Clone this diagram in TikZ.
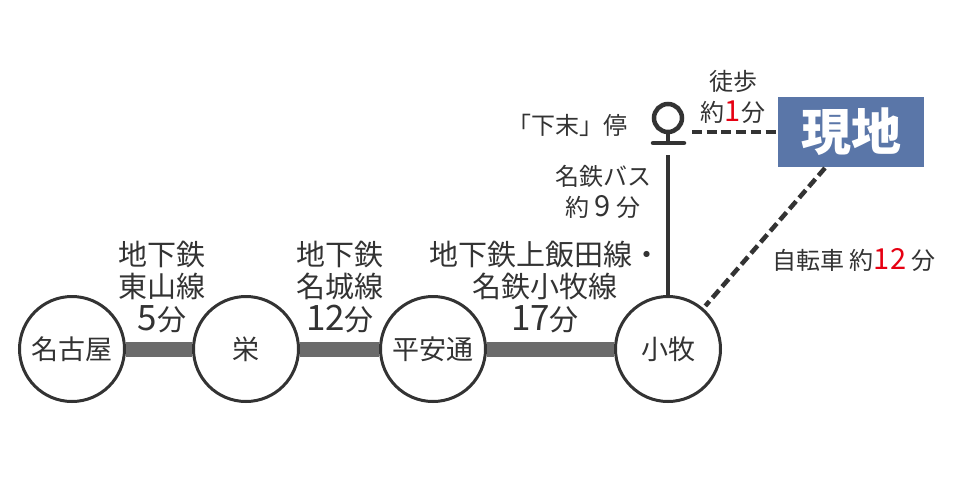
\documentclass[tikz,border=0pt]{standalone}
\usepackage{fontspec}
\setmainfont{Noto Sans CJK JP}
\definecolor{ink}{HTML}{333333}
\definecolor{barg}{HTML}{6B6B6B}
\definecolor{boxblue}{HTML}{5A76A8}
\definecolor{accent}{HTML}{E60012}
\newcommand\bigdg[1]{{\fontsize{35}{32.5}\selectfont #1}}
\newcommand\smdg[1]{{\fontsize{29}{31}\selectfont #1}}
\tikzset{
  station/.style={circle, draw=ink, line width=3pt, fill=white, minimum size=105pt, inner sep=0pt, text=ink, font=\fontsize{27}{27}\selectfont},
  railbar/.style={draw=barg, line width=15pt},
  linelabel/.style={align=center, text=ink, inner sep=0pt, font=\fontsize{29}{32.5}\selectfont},
  smalllabel/.style={align=center, text=ink, inner sep=0pt, font=\fontsize{24}{31}\selectfont},
  dashline/.style={draw=ink, line width=4.5pt, dash pattern=on 10pt off 4.7pt},
  pole/.style={draw=ink, line width=4.5pt},
}
\begin{document}
\begin{tikzpicture}[x=1pt,y=-1pt]
\useasboundingbox[fill=white] (0,0) rectangle (954,499);

% stations
\node[station] (nagoya) at (72,349) {名古屋};
\node[station] (sakae) at (246,349) {栄};
\node[station] (heian) at (433,349) {平安通};
\node[station] (komaki) at (668,349) {小牧};

% rail bars
\draw[railbar] (nagoya) -- (sakae);
\draw[railbar] (sakae) -- (heian);
\draw[railbar] (heian) -- (komaki);

% line labels
\node[linelabel] (l1) at (162,287) {地下鉄\\東山線\\\bigdg{5}分};
\node[linelabel] (l2) at (340,287) {地下鉄\\名城線\\\bigdg{12}分};
\node[linelabel] (l3) at (545,287) {地下鉄上飯田線・\\名鉄小牧線\\\bigdg{17}分};

% bus stop
\node[circle, draw=ink, line width=4.5pt, minimum size=28pt, inner sep=0pt] (stop) at (668,118) {};
\coordinate (stopB) at (668,143);
\coordinate (stopL) at (653,143);
\coordinate (stopR) at (684,143);
\draw[pole] (stop.south) -- (stopB);
\draw[pole, line cap=round] (stopL) -- (stopR);
\coordinate (poleTop) at (668,155);
\draw[pole] (poleTop) -- (komaki);

% destination box
\node[fill=boxblue, minimum width=146pt, minimum height=70pt, inner sep=0pt, text=white, font=\fontsize{50}{50}\selectfont\bfseries] (genchi) at (851,132) {現地};

% walking dashed
\coordinate (walkStart) at (692,132);
\draw[dashline] (walkStart) -- (genchi.west);

% bicycle dashed
\coordinate (bikeStart) at (825,168);
\draw[dashline, shorten >=3pt] (bikeStart) -- (komaki);

% labels
\node[smalllabel] (walk) at (733,97) {徒歩\\約{\color{accent}\smdg{1}}分};
\node[smalllabel] (stopname) at (567,125) {「下末」停};
\node[smalllabel] (bus) at (603,192) {名鉄バス\\約 \smdg{9} 分};
\node[smalllabel] (bike) at (854,260) {自転車 約{\color{accent}\smdg{12}} 分};
\end{tikzpicture}
\end{document}
